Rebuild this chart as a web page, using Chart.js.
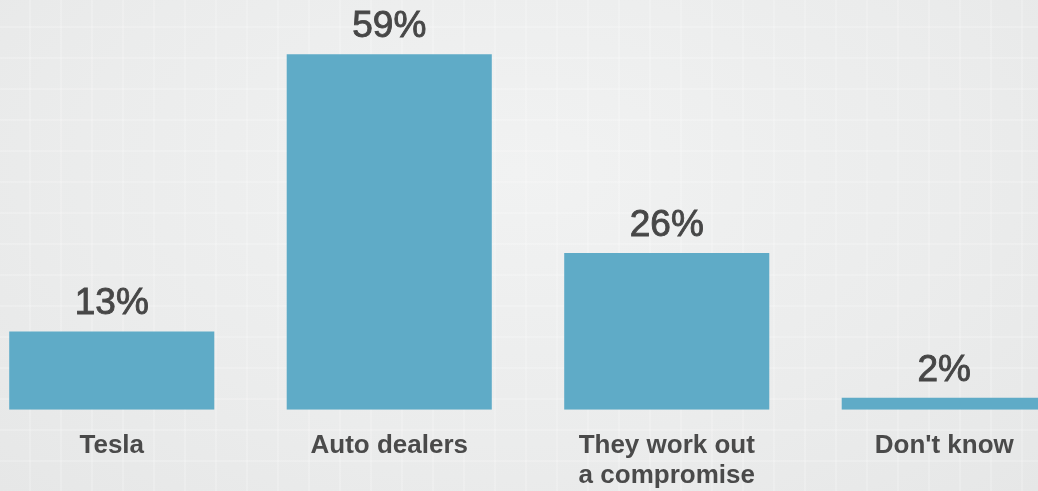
<!DOCTYPE html>
<html>
<head>
<meta charset="utf-8">
<script src="https://cdn.jsdelivr.net/npm/chart.js@4"></script>
<style>
    html, body {
        margin: 0;
        padding: 0;
        width: 1038px;
        height: 491px;
        overflow: hidden;
    }
    body {
        position: relative;
        background-color: #ebecec;
        background-image:
            repeating-linear-gradient(90deg, rgba(255,255,255,0) 0px, rgba(255,255,255,0) 29px, rgba(255,255,255,0.18) 29px, rgba(255,255,255,0.18) 31px),
            repeating-linear-gradient(0deg, rgba(255,255,255,0) 0px, rgba(255,255,255,0) 29px, rgba(255,255,255,0.18) 29px, rgba(255,255,255,0.18) 31px),
            radial-gradient(ellipse at 50% 35%, #f1f2f2 0%, #ebecec 60%, #e6e7e7 100%);
    }
    #wrap {
        position: absolute;
        left: -27px;
        top: 0;
        width: 1110px;
        height: 509px;
    }
</style>
</head>
<body>
<div id="wrap"><canvas id="myChart"></canvas></div>
<script>
let categories = ['Tesla', 'Auto dealers', ['They work out', 'a compromise'], "Don't know"]
let shares = [13, 59, 26, 2]

let barLabels = {
    id: 'barLabels',
    afterDatasetsDraw(chart) {
        const ctx = chart.ctx
        const meta = chart.getDatasetMeta(0)
        ctx.save()
        ctx.font = '37px "Liberation Sans", Arial, sans-serif'
        ctx.fillStyle = '#474747'
        ctx.strokeStyle = '#474747'
        ctx.lineWidth = 0.9
        ctx.textAlign = 'center'
        ctx.textBaseline = 'alphabetic'
        meta.data.forEach((bar, i) => {
            ctx.fillText(shares[i] + '%', bar.x, bar.y - 17)
            ctx.strokeText(shares[i] + '%', bar.x, bar.y - 17)
        })
        ctx.restore()
    }
}

let ctx = document.getElementById('myChart').getContext('2d');
let myChart = new Chart(ctx, {
    type: 'bar',
    data: {
        labels: categories,
        datasets: [{
            data: shares,
            backgroundColor: '#5fabc7',
            borderWidth: 0,
            categoryPercentage: 1,
            barPercentage: 0.739
        }]
    },
    options: {
        responsive: true,
        maintainAspectRatio: false,
        animation: false,
        layout: {
            padding: { top: 0, bottom: 5, left: 0, right: 0 }
        },
        plugins: {
            legend: { display: false },
            tooltip: { enabled: false }
        },
        scales: {
            x: {
                border: { display: false },
                grid: { display: false },
                ticks: {
                    autoSkip: false,
                    maxRotation: 0,
                    padding: 14,
                    color: '#4a4a4a',
                    font: {
                        family: '"Liberation Sans", Arial, sans-serif',
                        size: 26,
                        weight: 'bold',
                        lineHeight: 1.12
                    }
                }
            },
            y: {
                display: false,
                min: 0,
                max: 68
            }
        }
    },
    plugins: [barLabels]
});
</script>
</body>
</html>
